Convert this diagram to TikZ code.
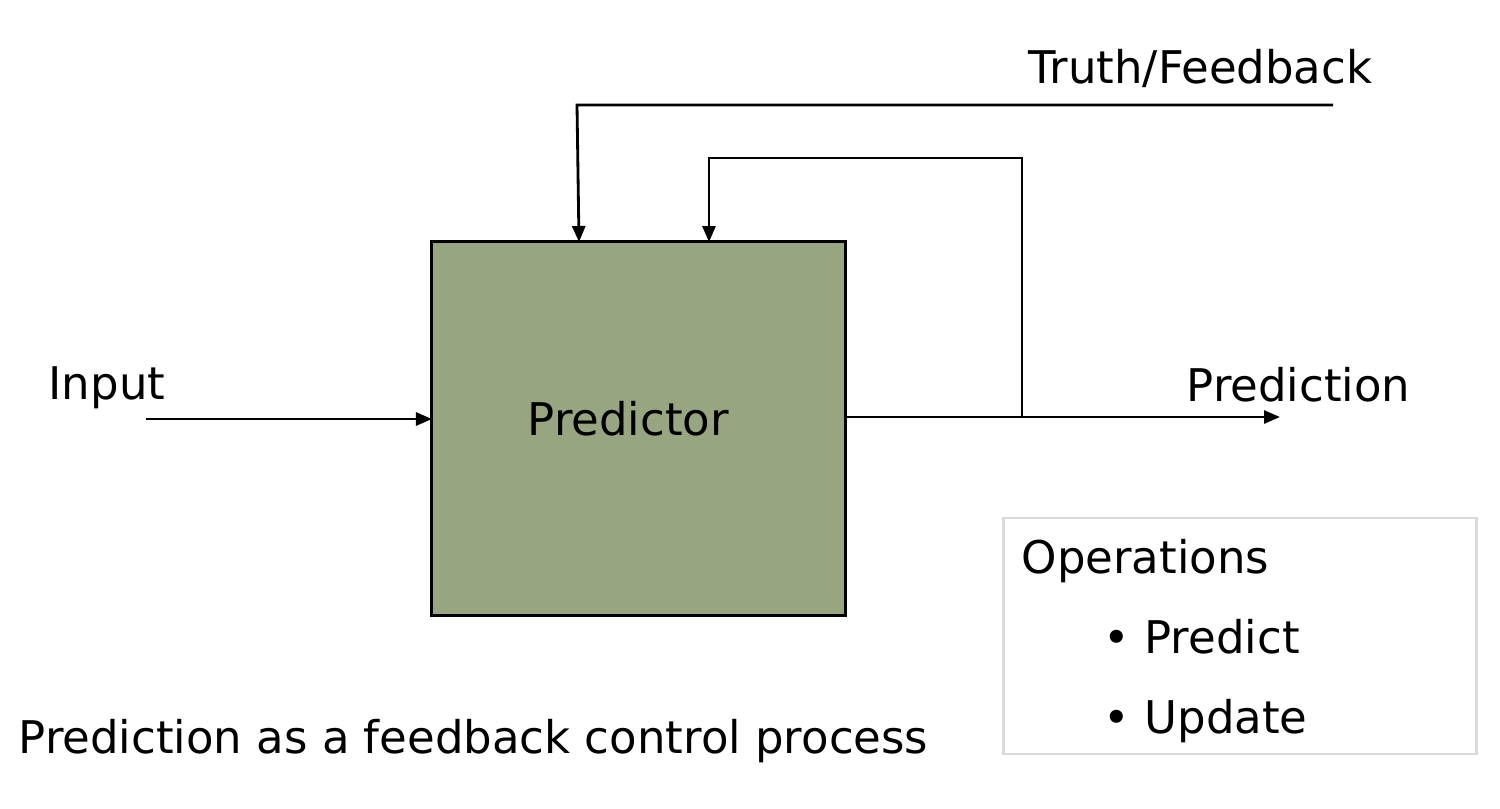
\documentclass[tikz,border=0pt]{standalone}
\usepackage{fontspec}
\setmainfont{DejaVu Sans}
\usetikzlibrary{arrows.meta}
\definecolor{boxgreen}{RGB}{151,166,128}
\definecolor{framegrey}{RGB}{218,218,218}
\begin{document}
\begin{tikzpicture}[x=0.01cm,y=-0.01cm,
  lbl/.style={inner sep=0pt, anchor=base west, font=\fontsize{12.8}{15}\selectfont},
  conn/.style={line width=0.8pt, -{Triangle[length=0.16cm,width=0.13cm]}},
  wire/.style={line width=0.8pt}]
\useasboundingbox (0,0) rectangle (1500,808);
% predictor block
\node[draw, fill=boxgreen, line width=0.85pt, minimum width=4.13cm, minimum height=3.73cm, inner sep=0pt] (pred) at (638.5,428.5) {};
\node[lbl] (predtxt) at (527,435) {Predictor};
% labels
\node[lbl] (inlbl) at (48,399) {Input};
\node[lbl] (outlbl) at (1186,401) {Prediction};
\node[lbl] (tflbl) at (1028,83) {Truth/Feedback};
\node[lbl] (caption) at (18,753) {Prediction as a feedback control process};
% operations box
\node[draw=framegrey, line width=0.8pt, minimum width=4.72cm, minimum height=2.36cm, inner sep=0pt] (ops) at (1240,636) {};
\node[lbl] (opstitle) at (1021,573) {Operations};
\node[lbl] (op1) at (1103,653) {•\ Predict};
\node[lbl] (op2) at (1103,733) {•\ Update};
% coordinates
\coordinate (instart) at (146,419);
\coordinate (inend) at (432,419);
\coordinate (outstart) at (845,417);
\coordinate (junc) at (1022,417);
\coordinate (outend) at (1280,417);
\coordinate (fbtop) at (1022,158);
\coordinate (fbleft) at (709,158);
\coordinate (fbin) at (709,242);
\coordinate (tfstart) at (1333,105);
\coordinate (tfleft) at (577,105);
\coordinate (tfin) at (579,242);
% connectors
\draw[conn] (instart) -- (inend);
\draw[conn] (outstart) -- (junc) -- (outend);
\draw[conn] (junc) -- (fbtop) -- (fbleft) -- (fbin);
\draw[conn] (tfstart) -- (tfleft) -- (tfin);
\end{tikzpicture}
\end{document}
